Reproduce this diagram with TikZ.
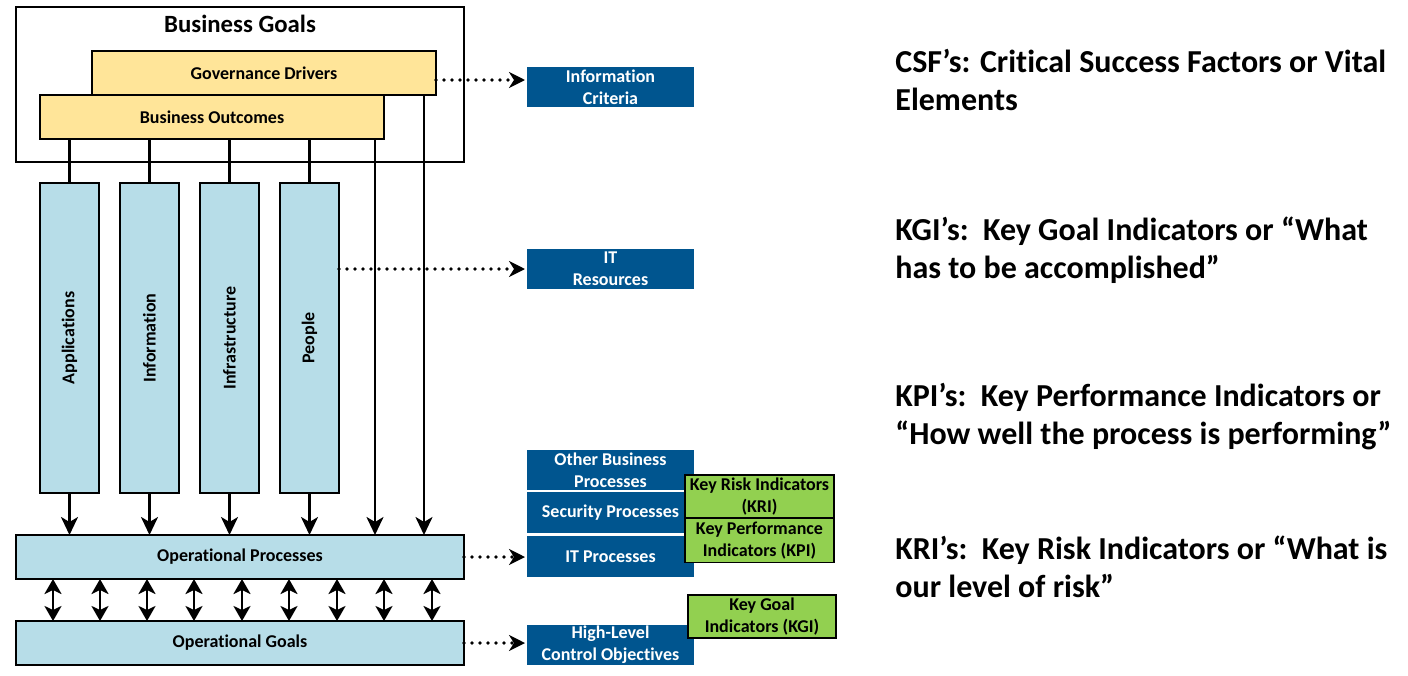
\documentclass[tikz,border=0pt]{standalone}
\usepackage{fontspec}
\setmainfont{Carlito}[Ligatures=NoCommon]
\usepackage{xcolor}
\usetikzlibrary{arrows.meta}

\definecolor{goldbox}{HTML}{FFE599}
\definecolor{paleblue}{HTML}{B7DDE8}
\definecolor{cobitblue}{HTML}{00558F}
\definecolor{kpigreen}{HTML}{92D050}

\tikzset{
  box/.style={draw, line width=0.7pt, inner sep=0pt, outer sep=0pt, align=center,
    font=\bfseries\fontsize{9}{11}\selectfont},
  gold/.style={box, fill=goldbox, minimum width=172pt, minimum height=22pt},
  res/.style={box, fill=paleblue, minimum width=29.5pt, minimum height=155pt},
  band/.style={box, fill=paleblue, minimum width=224pt, minimum height=22pt},
  navy/.style={box, draw=white, line width=1pt, fill=cobitblue, text=white,
    minimum width=84.5pt, minimum height=21pt},
  indic/.style={box, fill=kpigreen, minimum width=74.5pt, minimum height=21.5pt},
  flow/.style={line width=1.3pt, -{Stealth[length=9pt,width=8.5pt,inset=2.5pt]}},
  both/.style={line width=1.3pt, {Stealth[length=7.5pt,width=8.5pt,inset=2pt]}-{Stealth[length=7.5pt,width=8.5pt,inset=2pt]}},
  dots/.style={line width=1.8pt, line cap=round, dash pattern=on 0pt off 4pt,
    -{Stealth[length=8pt,width=8pt,inset=2.5pt]}, shorten >=0.5pt},
  note/.style={anchor=base west, align=left, inner sep=0pt,
    font=\bfseries\fontsize{16}{19}\selectfont}
}

\begin{document}
\begin{tikzpicture}[x=0.5pt, y=-0.5pt]
  \useasboundingbox (0,0) rectangle (1408,675);

  % goals
  \node[box, fill=white, minimum width=224pt, minimum height=77.5pt] (goals) at (240,84.5) {};
  \node[font=\bfseries\fontsize{12.4}{14}\selectfont] (title) at (240,24) {Business Goals};
  \node[gold] (gd) at (264,73) {Governance Drivers};
  \node[gold] (bo) at (212,117) {Business Outcomes};

  % resources
  \node[res] (app)   at (69.5,338)  {\rotatebox{90}{Applications}};
  \node[res] (info)  at (149.5,338) {\rotatebox{90}{Information}};
  \node[res] (infra) at (229.5,338) {\rotatebox{90}{Infrastructure}};
  \node[res] (ppl)   at (309.5,338) {\rotatebox{90}{People}};

  \node[band] (op) at (240,557) {Operational Processes};
  \node[band] (og) at (240,643) {Operational Goals};

  % right hand column
  \node[navy] (crit) at (610.5,87)  {Information\\Criteria};
  \node[navy] (itr)  at (610.5,269) {IT\\Resources};
  \node[navy] (obp)  at (610.5,470) {Other Business\\Processes};
  \node[navy, minimum height=21.5pt] (sec) at (610.5,512.5) {Security Processes};
  \node[navy, minimum height=21.5pt] (itp) at (610.5,556.5) {IT Processes};
  \node[navy] (hl)   at (610.5,645) {High-Level\\Control Objectives};

  \node[indic] (kri) at (759.5,496.5) {Key Risk Indicators\\(KRI)};
  \node[indic, minimum height=22pt] (kpi) at (759.5,540.5) {Key Performance\\Indicators (KPI)};
  \node[indic, minimum width=74pt] (kgi) at (762,616.5) {Key Goal\\Indicators (KGI)};

  % connectors
  \foreach \c in {app,info,infra,ppl}{
    \draw[line width=1.3pt] (\c.north |- bo.south) -- (\c.north);
    \draw[flow] (\c.south) -- (\c.south |- op.north);
  }
  \coordinate (tapA) at ([xshift=-4.5pt]bo.south east);
  \coordinate (tapB) at ([xshift=-6pt]gd.south east);
  \draw[flow] (tapA) -- (tapA |- op.north);
  \draw[flow] (tapB) -- (tapB |- op.north);

  \foreach \x in {53,100,147,194,242,289,337,384,432}{
    \coordinate (tick) at (\x,600);
    \draw[both] (op.south -| tick) -- (og.north -| tick);
  }

  \draw[dots] ([yshift=-3.5pt]gd.east) coordinate (gdout) -- (gdout -| crit.west);
  \draw[dots] (ppl.east |- itr.west) -- (itr.west);
  \draw[dots] (op.east) -- (op.east -| itp.west);
  \draw[dots] (og.east) -- (og.east -| hl.west);

  % notes
  \node[note] (csf) at (895,110) {CSF’s: Critical Success Factors or Vital\\Elements};
  \node[note] (kgs) at (895,278) {KGI’s:\ \ Key Goal Indicators or “What\\has to be accomplished”};
  \node[note] (kps) at (895,444) {KPI’s:\ \ Key Performance Indicators or\\“How well the process is performing”};
  \node[note] (krs) at (895,597) {KRI’s:\ \ Key Risk Indicators or “What is\\our level of risk”};
\end{tikzpicture}
\end{document}
